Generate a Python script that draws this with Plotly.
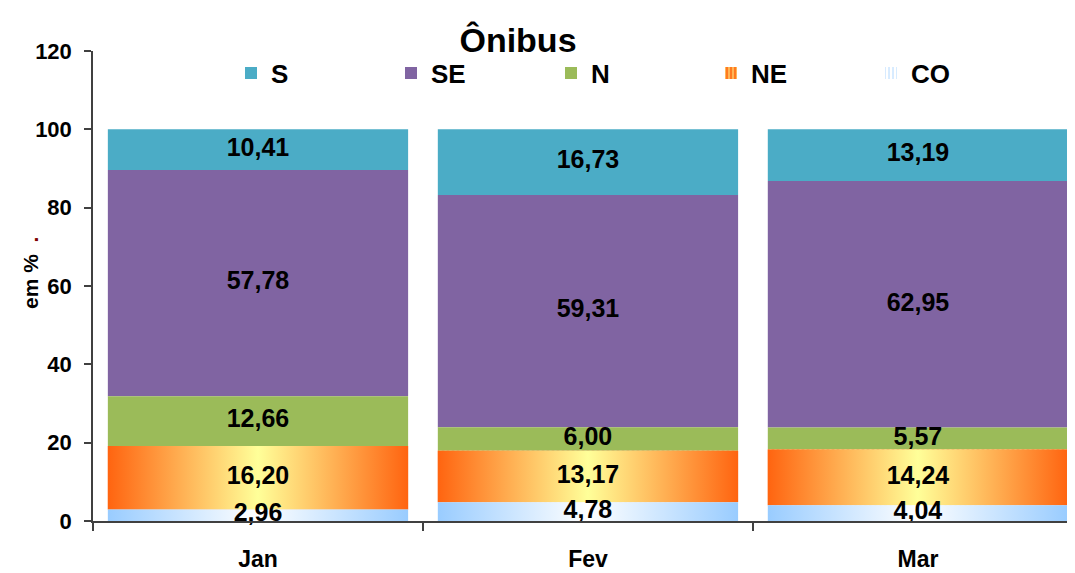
import plotly.graph_objects as go
import numpy as np

months = ["Jan", "Fev", "Mar"]
series_names = ["S", "SE", "N", "NE", "CO"]
s_vals = [10.41, 16.73, 13.19]
se_vals = [57.78, 59.31, 62.95]
n_vals = [12.66, 6.00, 5.57]
ne_vals = [16.20, 13.17, 14.24]
co_vals = [2.96, 4.78, 4.04]
y_ticks = [0, 20, 40, 60, 80, 100, 120]

FONT = "Liberation Sans, Arial, sans-serif"
BAR_W = 0.91
xpos = np.arange(len(months))

# page body has an 8px margin; the figure is sized to fit the window
OFF = 8
W, H = 1075 - OFF, 573 - OFF

# stacking order bottom -> top
stack = [("CO", co_vals), ("NE", ne_vals), ("N", n_vals), ("SE", se_vals), ("S", s_vals)]
bases = {}
cum = np.zeros(len(months))
for name, vals in stack:
    bases[name] = cum.copy()
    cum = cum + np.array(vals)

values = {"S": s_vals, "SE": se_vals, "N": n_vals, "NE": ne_vals, "CO": co_vals}
solid = {"S": "#4BACC6", "SE": "#8064A2", "N": "#9BBB59"}
grad = {
    "NE": [[0, "#FF6410"], [0.5, "#FFFF99"], [1, "#FF6410"]],
    "CO": [[0, "#99CCFF"], [0.5, "#FFFFFF"], [1, "#99CCFF"]],
}
legend_pat = {
    "NE": dict(shape="|", bgcolor="#FF7A20", fgcolor="#FFFF99", size=5, solidity=0.45),
    "CO": dict(shape="|", bgcolor="#FFFFFF", fgcolor="#A8D4FF", size=5, solidity=0.45),
}

fig = go.Figure()

for name in series_names:
    marker = dict(line=dict(width=0))
    if name in solid:
        marker["color"] = solid[name]
    else:
        marker["color"] = grad[name][0][1]
        marker["pattern"] = legend_pat[name]
    fig.add_trace(go.Bar(
        x=xpos, y=values[name], base=bases[name], width=BAR_W,
        name=name, marker=marker, hoverinfo="skip",
    ))

# gradient overlays for NE and CO segments
for name in ["NE", "CO"]:
    for i in range(len(months)):
        x0, x1 = xpos[i] - BAR_W / 2, xpos[i] + BAR_W / 2
        y0 = bases[name][i]
        y1 = y0 + values[name][i]
        fig.add_trace(go.Scatter(
            x=[x0, x1, x1, x0, x0], y=[y0, y0, y1, y1, y0],
            mode="none", fill="toself",
            fillgradient=dict(type="horizontal", colorscale=grad[name]),
            showlegend=False, hoverinfo="skip",
        ))

# value labels
for name, vals in stack:
    mids = bases[name] + np.array(vals) / 2
    fig.add_trace(go.Scatter(
        x=xpos, y=mids, mode="text",
        text=[f"{v:.2f}".replace(".", ",") for v in vals],
        textfont=dict(family=FONT, size=25, color="black", weight="bold"),
        showlegend=False, hoverinfo="skip", cliponaxis=False,
    ))

plot_left, plot_top, plot_bottom = 93 - OFF, 51 - OFF, 521 - OFF
plot_w = W - plot_left
plot_h = plot_bottom - plot_top

fig.update_layout(
    width=W, height=H,
    margin=dict(l=plot_left, r=0, t=plot_top, b=H - plot_bottom, autoexpand=False),
    plot_bgcolor="white", paper_bgcolor="white",
    barmode="overlay",
    showlegend=True,
    title=dict(text="Ônibus", x=(518 - OFF) / W, xanchor="center", xref="container",
               y=1 - (40 - OFF) / H, yanchor="middle", yref="container",
               font=dict(family=FONT, size=34, color="black", weight="bold")),
    legend=dict(orientation="h", xref="container", yref="container",
                x=(231 - OFF) / W, xanchor="left", y=1 - (73 - OFF) / H, yanchor="middle",
                entrywidth=115, entrywidthmode="pixels",
                bgcolor="rgba(0,0,0,0)", traceorder="normal",
                font=dict(family=FONT, size=26, color="black", weight="bold")),
    xaxis=dict(
        range=[-0.5, 2.476], tickmode="array", tickvals=list(xpos), ticktext=months,
        ticks="", showline=True, linecolor="#404040", linewidth=1.5,
        showgrid=False, zeroline=False, ticklabelstandoff=17,
        tickfont=dict(family=FONT, size=23, color="black", weight="bold"),
        minor=dict(tickmode="array", tickvals=[-0.5, 0.5, 1.5], ticks="outside",
                   ticklen=8, tickcolor="#404040", tickwidth=1.5),
    ),
    yaxis=dict(
        range=[0, 120], tickmode="array", tickvals=y_ticks,
        ticks="outside", ticklen=7, tickcolor="#404040", tickwidth=1.5,
        showline=True, linecolor="#404040", linewidth=1.5,
        showgrid=False, zeroline=False, ticklabelstandoff=8,
        tickfont=dict(family=FONT, size=22, color="black", weight="bold"),
    ),
    annotations=[dict(
        text="em %  <span style='color:#800000'>.</span>",
        xref="paper", yref="paper", x=(30 - 93) / plot_w, y=(521 - 273) / plot_h,
        xanchor="center", yanchor="middle", textangle=-90, showarrow=False,
        font=dict(family=FONT, size=21, color="black", weight="bold"),
    )],
)

fig.write_html("out.html")
